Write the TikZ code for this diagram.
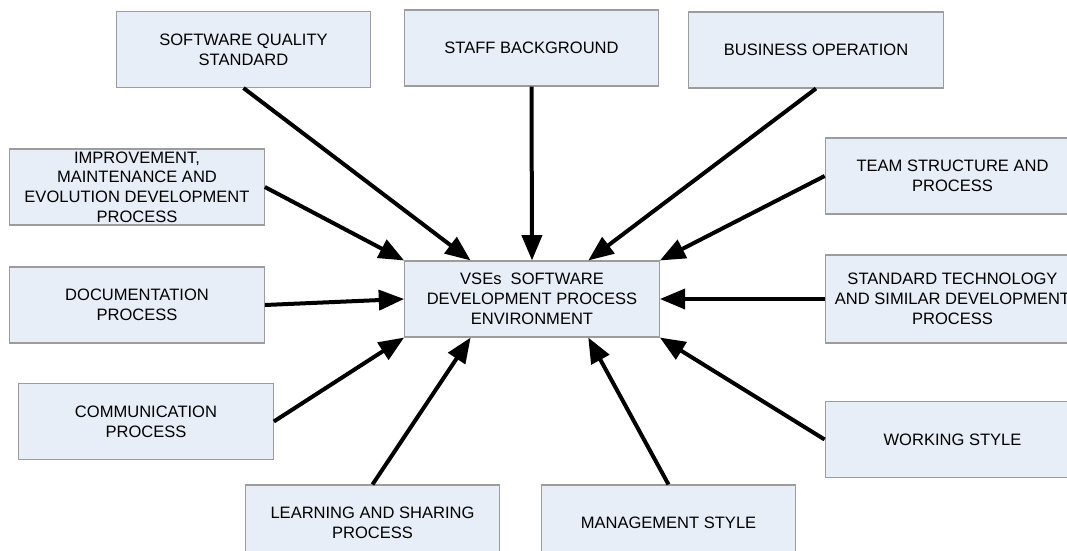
\documentclass[tikz,border=0pt]{standalone}
\usepackage{fontspec}
\setmainfont{Liberation Sans}
\usetikzlibrary{arrows.meta,calc}

\definecolor{boxfill}{HTML}{E8EEF7}
\definecolor{boxline}{HTML}{9C9C9C}

\begin{document}
\begin{tikzpicture}[x=0.75pt,y=-0.75pt,
                    factor/.style={rectangle,draw=boxline,fill=boxfill,line width=0.8pt,
                                   minimum width=191pt,minimum height=57pt,inner sep=0pt,
                                   align=center,font=\fontsize{12.4}{14.8}\selectfont},
                    influence/.style={line width=3pt,-{Triangle[length=19pt,width=15pt]}}]
  \useasboundingbox (0,0) rectangle (1067,550);

  % Top row
  \node[factor] (sqs) at (243.5,49.5) {SOFTWARE QUALITY\\STANDARD};
  \node[factor] (staff) at (531.5,48) {STAFF BACKGROUND};
  \node[factor] (business) at (816,50) {BUSINESS OPERATION};

  % Left column
  \node[factor] (improvement) at (137,187) {IMPROVEMENT,\\MAINTENANCE AND\\EVOLUTION DEVELOPMENT\\PROCESS};
  \node[factor] (documentation) at (137,305) {DOCUMENTATION\\PROCESS};
  \node[factor] (communication) at (146,421.5) {COMMUNICATION\\PROCESS};

  % Right column
  \node[factor] (team) at (952.5,176) {TEAM STRUCTURE AND\\PROCESS};
  \node[factor,minimum height=66pt] (standard) at (952.5,299) {STANDARD TECHNOLOGY\\AND SIMILAR DEVELOPMENT\\PROCESS};
  \node[factor] (working) at (952.5,439.5) {WORKING STYLE};

  % Bottom row
  \node[factor] (learning) at (372.5,523) {LEARNING AND SHARING\\PROCESS};
  \node[factor] (management) at (668.5,523) {MANAGEMENT STYLE};

  % Centre
  \node[factor] (env) at (532,299) {VSEs\ \ SOFTWARE\\DEVELOPMENT PROCESS\\ENVIRONMENT};

  \draw[influence] (sqs.south) -- ($(env.north west)!.26!(env.north east)$);
  \draw[influence] (staff.south) -- (env.north);
  \draw[influence] (business.south) -- ($(env.north west)!.72!(env.north east)$);
  \draw[influence] (improvement.east) -- (env.north west);
  \draw[influence] (team.west) -- (env.north east);
  \draw[influence] (documentation.east) -- (env.west);
  \draw[influence] (standard.west) -- (env.east);
  \draw[influence] (communication.east) -- (env.south west);
  \draw[influence] (working.west) -- (env.south east);
  \draw[influence] (learning.north) -- ($(env.south west)!.26!(env.south east)$);
  \draw[influence] (management.north) -- ($(env.south west)!.72!(env.south east)$);

\end{tikzpicture}
\end{document}
